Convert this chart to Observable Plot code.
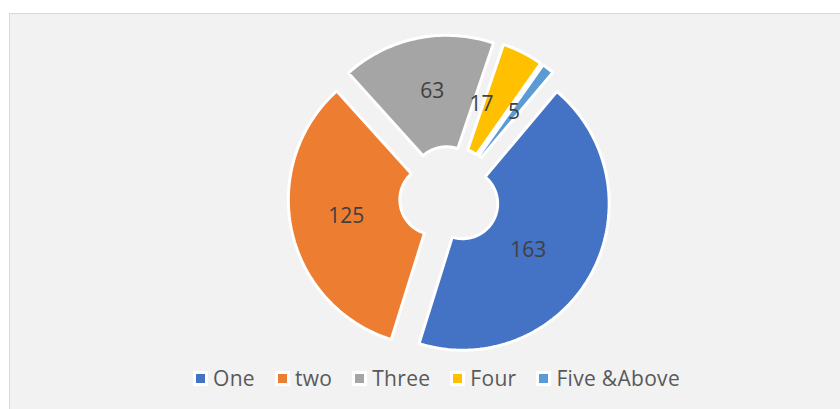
<!DOCTYPE html>
<html>
<head>
<meta charset="utf-8">
<script src="https://cdn.jsdelivr.net/npm/d3@7"></script>
<script src="https://cdn.jsdelivr.net/npm/@observablehq/plot@0.6"></script>
<style>
  body { margin: 0; background: #ffffff; }
  #wrap { position: relative; width: 840px; height: 409px; overflow: hidden; background: #ffffff; }
  #box { position: absolute; left: 9px; top: 13px; width: 840px; height: 409px; background: #f2f2f2; border: 1px solid #d9d9d9; box-sizing: border-box; }
  #chart { position: absolute; left: 0; top: 0; }
  #legend { position: absolute; left: 193px; top: 364px; display: flex; align-items: center; font-family: "Open Sans", sans-serif; font-size: 21px; letter-spacing: 0.3px; color: #595959; white-space: nowrap; }
  .item { display: flex; align-items: center; margin-right: 20px; }
  .sw { width: 9px; height: 9px; border: 3px solid #ffffff; margin-right: 5px; }
</style>
</head>
<body>
<div id="wrap">
  <div id="box"></div>
  <div id="chart"></div>
  <div id="legend"></div>
</div>
<script>
const categories = ["One", "two", "Three", "Four", "Five &Above"];
const values = [163, 125, 63, 17, 5];
const colors = ["#4472C4", "#ED7D31", "#A5A5A5", "#FFC000", "#5B9BD5"];

// layout
const cx = 449, cy = 196, R = 146.5, r = 35, explode = 15, startDeg = 40;
// label nudges (Excel moves crowded labels)
const nudge = {"One": [-14, 3], "Four": [-16, 2], "Three": [4, -2], "two": [0, -3]};

const total = d3.sum(values);
let acc = startDeg * Math.PI / 180;
const slices = values.map((v, i) => {
  const a0 = acc, a1 = acc + v / total * 2 * Math.PI;
  acc = a1;
  const mid = (a0 + a1) / 2;
  const ox = cx + explode * Math.sin(mid), oy = cy - explode * Math.cos(mid);
  const pts = [];
  const n = Math.max(4, Math.ceil((a1 - a0) / 0.02));
  for (let k = 0; k <= n; k++) {
    const a = a0 + (a1 - a0) * k / n;
    pts.push({x: ox + R * Math.sin(a), y: oy - R * Math.cos(a), cat: categories[i]});
  }
  for (let k = n; k >= 0; k--) {
    const a = a0 + (a1 - a0) * k / n;
    pts.push({x: ox + r * Math.sin(a), y: oy - r * Math.cos(a), cat: categories[i]});
  }
  const lr = (R + r) / 2;
  const [ndx, ndy] = nudge[categories[i]] || [0, 0];
  return {cat: categories[i], value: v, color: colors[i], pts,
          lx: ox + lr * Math.sin(mid) + ndx, ly: oy - lr * Math.cos(mid) + ndy};
});

const chart = Plot.plot({
  width: 840, height: 409, margin: 0,
  x: {domain: [0, 840], range: [0, 840], axis: null},
  y: {domain: [0, 409], range: [0, 409], axis: null},
  style: {background: "transparent", overflow: "visible"},
  marks: [
    ...slices.map(s => Plot.line(s.pts, {x: "x", y: "y", curve: "linear-closed",
        fill: s.color, stroke: "#ffffff", strokeWidth: 3, strokeLinejoin: "miter"})),
    Plot.text(slices, {x: "lx", y: "ly", text: d => String(d.value), fill: "#404040",
        fontSize: 21, fontFamily: "Open Sans, sans-serif"})
  ]
});
document.getElementById("chart").appendChild(chart);

const leg = document.getElementById("legend");
categories.forEach((c, i) => {
  const it = document.createElement("div");
  it.className = "item";
  const sw = document.createElement("span");
  sw.className = "sw";
  sw.style.background = colors[i];
  const t = document.createElement("span");
  t.textContent = c;
  it.appendChild(sw); it.appendChild(t);
  leg.appendChild(it);
});
</script>
</body>
</html>
